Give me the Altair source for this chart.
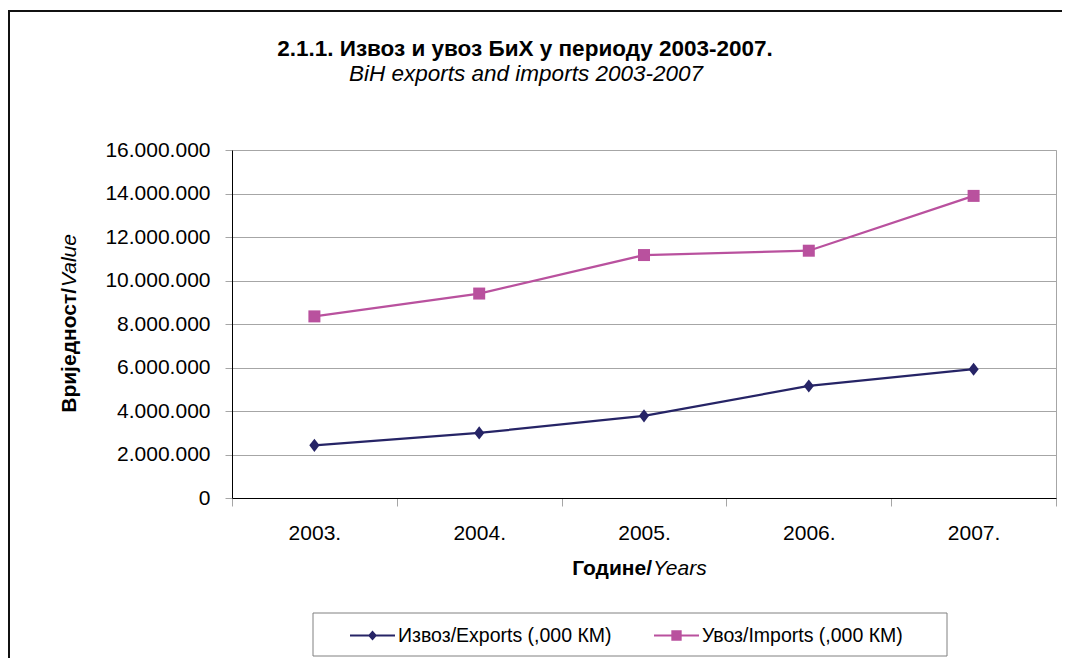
import altair as alt
import pandas as pd

# ---- data ----
years = ["2003.", "2004.", "2005.", "2006.", "2007."]
exports = [2420000, 2990000, 3780000, 5150000, 5920000]
imports = [8350000, 9400000, 11170000, 11370000, 13890000]
series_names = ["Извоз/Exports (,000 КМ)", "Увоз/Imports (,000 КМ)"]
y_ticks = [0, 2000000, 4000000, 6000000, 8000000, 10000000, 12000000, 14000000, 16000000]

title_text = "2.1.1. Извоз и увоз БиХ у периоду 2003-2007."
subtitle_text = "BiH exports and imports 2003-2007"
y_title_bold = "Вриједност/"
y_title_italic = "Value"
x_title_bold = "Године/"
x_title_italic = "Years"

df = pd.DataFrame({
    "year": years * 2,
    "value": exports + imports,
    "series": [series_names[0]] * len(years) + [series_names[1]] * len(years),
})

FONT = "Liberation Sans"
NAVY = "#262466"
PINK = "#B9519E"
GRID = "#a6a6a6"
series_colors = [NAVY, PINK]

color_scale = alt.Scale(domain=series_names, range=series_colors)
diamond_path = "M0,-1.1L0.85,0L0,1.1L-0.85,0Z"
shape_scale = alt.Scale(domain=series_names, range=[diamond_path, "square"])

# legend symbols: a short line with the marker in the middle (all filled, clockwise)
leg_line = "M-1,-0.045L1,-0.045L1,0.045L-1,0.045Z"
leg_diamond = leg_line + "M0,-0.22L0.2,0L0,0.22L-0.2,0Z"
leg_square = leg_line + "M-0.23,-0.23L0.23,-0.23L0.23,0.23L-0.23,0.23Z"
legend_paths = [leg_diamond, leg_square]
legend_x = [118, 422]

x_enc = alt.X(
    "year:N",
    sort=years,
    bandPosition=0.5,
    scale=alt.Scale(type="band", domain=years, paddingInner=0, paddingOuter=0),
    axis=alt.Axis(
        title=None, labelAngle=0, tickBand="extent", tickColor=GRID, tickSize=8,
        domainColor="#000000", labelPadding=16, labelFont=FONT, labelFontSize=21,
        labelColor="#000000", grid=False,
    ),
)
y_enc = alt.Y(
    "value:Q",
    scale=alt.Scale(domain=[0, 16000000], nice=False),
    axis=alt.Axis(
        title=None, values=y_ticks,
        labelExpr="replace(format(datum.value, ','), /,/g, '.')",
        labelFont=FONT, labelFontSize=21, labelColor="#000000",
        tickColor=GRID, tickSize=7, labelPadding=15,
        domainColor="#000000", gridColor=GRID,
    ),
)

base = alt.Chart(df)

lines = base.mark_line(strokeWidth=2.25).encode(
    x=x_enc, y=y_enc,
    color=alt.Color("series:N", scale=color_scale, legend=None),
)

points = base.mark_point(filled=True, size=144, opacity=1).encode(
    x=x_enc, y=y_enc,
    color=alt.Color("series:N", scale=color_scale, legend=None),
    shape=alt.Shape("series:N", scale=shape_scale, legend=None),
)


def legend_layer(i):
    name = series_names[i]
    leg = alt.Legend(
        title=None, orient="none", legendX=legend_x[i], legendY=463,
        direction="horizontal", labelFont=FONT, labelFontSize=19.5,
        labelColor="#000000", labelLimit=0, labelOffset=3,
        symbolSize=2025, symbolStrokeWidth=0, symbolOpacity=1,
        symbolFillColor=series_colors[i], padding=0,
    )
    return base.transform_filter(alt.datum.series == name).transform_filter("false").mark_point(
        filled=True, opacity=1, color=series_colors[i]
    ).encode(
        x=x_enc, y=y_enc,
        shape=alt.Shape("series:N", scale=alt.Scale(domain=[name], range=[legend_paths[i]]), legend=leg),
    )


one = alt.Data(values=[{}])


def txt(text, x, y, size, weight="normal", style="normal", align="center", angle=0):
    kw = dict(font=FONT, fontSize=size, fontWeight=weight, fontStyle=style,
              align=align, baseline="alphabetic", color="#000000")
    if angle:
        kw["angle"] = angle
    return alt.Chart(one).mark_text(**kw).encode(
        x=alt.value(x), y=alt.value(y), text=alt.value(text))


title1 = txt(title_text, 293, -94, 22.5, weight="bold")
title2 = txt(subtitle_text, 294, -69, 22.5, style="italic")
xt1 = txt(x_title_bold, 420, 425, 21, weight="bold", align="right")
xt2 = txt(x_title_italic, 421, 425, 21, style="italic", align="left")
yt1 = txt(y_title_bold, -156, 138, 21, weight="bold", align="right", angle=270)
yt2 = txt(y_title_italic, -156, 137, 21, style="italic", align="left", angle=270)

legend_box = alt.Chart(one).mark_rect(fillOpacity=0, stroke="#808080", strokeWidth=1).encode(
    x=alt.value(81), x2=alt.value(715), y=alt.value(463), y2=alt.value(506))

frame_left = alt.Chart(one).mark_rule(color="#111111", strokeWidth=2).encode(
    x=alt.value(-223), y=alt.value(-140), y2=alt.value(600))
frame_top = alt.Chart(one).mark_rule(color="#111111", strokeWidth=2).encode(
    x=alt.value(-224), x2=alt.value(900), y=alt.value(-139))

chart = alt.layer(
    frame_left, frame_top, legend_box, lines, points, legend_layer(0), legend_layer(1),
    title1, title2, xt1, xt2, yt1, yt2,
).resolve_scale(shape="independent").properties(
    width=824, height=348,
    autosize=alt.AutoSizeParams(type="none"),
    padding={"left": 224, "top": 142, "right": 6, "bottom": 160},
    background="#ffffff",
).configure_view(stroke=GRID, strokeWidth=1)

chart.save("out.html", embed_options={"renderer": "svg", "actions": False})
